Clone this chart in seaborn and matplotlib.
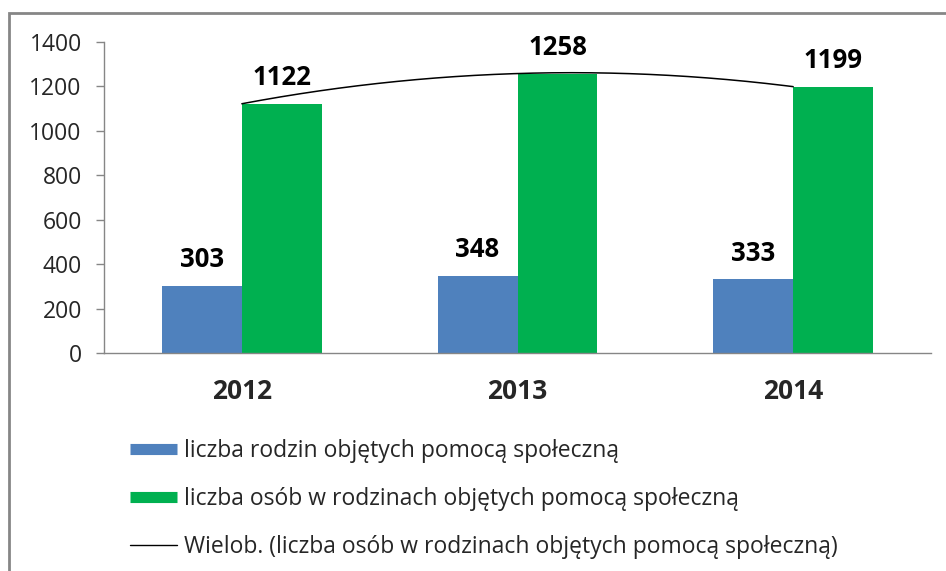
import numpy as np
import pandas as pd
import matplotlib
matplotlib.use("Agg")
import matplotlib.pyplot as plt
from matplotlib.lines import Line2D
from matplotlib.patches import Rectangle
import seaborn as sns

years = ["2012", "2013", "2014"]
families = [303, 348, 333]
persons = [1122, 1258, 1199]
series_names = ["liczba rodzin objętych pomocą społeczną",
                "liczba osób w rodzinach objętych pomocą społeczną"]
trend_name = "Wielob. (liczba osób w rodzinach objętych pomocą społeczną)"
yticks = [0, 200, 400, 600, 800, 1000, 1200, 1400]

blue = "#4f81bd"
green = "#00b050"
gray = "#868686"

sns.set_style("white")
plt.rcParams["font.family"] = ["Open Sans", "DejaVu Sans"]

df = pd.DataFrame({
    "year": years * 2,
    "value": families + persons,
    "series": [series_names[0]] * 3 + [series_names[1]] * 3,
})

fig = plt.figure(figsize=(9.46, 5.71), dpi=100, facecolor="white")
ax = fig.add_axes([104 / 946, 1 - 353 / 571, (931 - 104) / 946, (353 - 42) / 571])
ax.set_facecolor("white")

sns.barplot(data=df, x="year", y="value", hue="series", order=years,
            hue_order=series_names, palette=[blue, green], width=0.58,
            saturation=1, legend=False, ax=ax, linewidth=0)

# polynomial trendline (degree 2) on persons series
xs = np.arange(len(years))
coef = np.polyfit(xs, persons, 2)
xf = np.linspace(0, len(years) - 1, 200)
ax.plot(xf, np.polyval(coef, xf), color="black", lw=1.1)

# data labels
for container in ax.containers:
    for bar in container:
        h = bar.get_height()
        ax.annotate(f"{int(round(h))}", (bar.get_x() + bar.get_width() / 2, h),
                    xytext=(0, 9), textcoords="offset points",
                    ha="center", va="bottom", fontsize=18.5, fontweight="bold",
                    color="black")

ax.set_xlim(-0.5, len(years) - 0.5)
ax.set_ylim(0, 1400)
ax.set_yticks(yticks)
ax.set_yticklabels([str(t) for t in yticks], fontsize=16.5)
ax.set_xlabel("")
ax.set_ylabel("")
ax.set_xticks(xs)
ax.set_xticklabels(years, fontsize=19, fontweight="bold")
ax.tick_params(axis="x", length=0, pad=18)
ax.tick_params(axis="y", length=6, width=1, color=gray, direction="out", pad=10, left=True)
# category boundary ticks
ax.set_xticks(np.arange(-0.5, len(years)), minor=True)
ax.tick_params(axis="x", which="minor", length=7, width=1, color=gray, direction="out")
for side in ["top", "right"]:
    ax.spines[side].set_visible(False)
for side in ["left", "bottom"]:
    ax.spines[side].set_color(gray)
    ax.spines[side].set_linewidth(1)
ax.grid(False)

# outer chart border
fig.patches.append(Rectangle((9 / 946, -0.1), 1.2, 1 - 13 / 571 + 0.1,
                             transform=fig.transFigure, fill=False,
                             edgecolor=gray, lw=2))

handles = [Line2D([], [], color=blue, lw=8, solid_capstyle="butt"),
           Line2D([], [], color=green, lw=8, solid_capstyle="butt"),
           Line2D([], [], color="black", lw=1)]
fig.legend(handles, series_names + [trend_name], loc="upper left",
           bbox_to_anchor=(130 / 946, 1 - 439 / 571), frameon=False,
           fontsize=16.5, handlelength=2.05, handletextpad=0.3,
           labelspacing=1.05, borderpad=0, borderaxespad=0)

fig.savefig("out.png", dpi=100, facecolor="white")
